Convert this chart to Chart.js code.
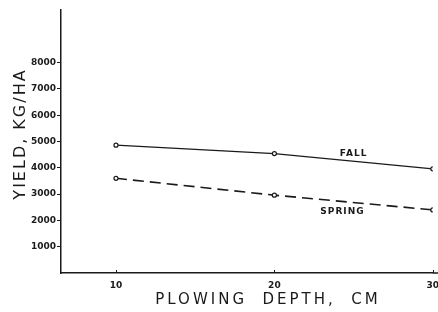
<!DOCTYPE html>
<html>
<head>
<meta charset="utf-8">
<script src="https://cdn.jsdelivr.net/npm/chart.js@4"></script>
<style>
  html, body { margin: 0; padding: 0; background: #fff; }
  #wrap { width: 438px; height: 312px; position: relative; }
</style>
</head>
<body>
<div id="wrap"><canvas id="myChart"></canvas></div>
<script>
const depths = [10, 20, 30];
const fallYield = [4860, 4540, 3960];
const springYield = [3600, 2960, 2400];
const xTicks = [10, 20, 30];
const yTicks = [1000, 2000, 3000, 4000, 5000, 6000, 7000, 8000];
const yTitle = 'YIELD, KG/HA';
const xTitle = 'PLOWING  DEPTH,  CM';
const seriesLabels = [
    { text: 'FALL', x: 25.0, y: 4540 },
    { text: 'SPRING', x: 24.3, y: 2330 }
];

const ink = '#1a1a1a';

// titles with letter spacing, series labels and the small inward x ticks
const extras = {
    id: 'extras',
    afterDraw(chart) {
        const ctx = chart.ctx;
        const xs = chart.scales.x;
        const ys = chart.scales.y;
        ctx.save();
        ctx.fillStyle = ink;
        ctx.strokeStyle = ink;

        // x axis runs on a little past the last tick
        ctx.lineWidth = 1.5;
        ctx.beginPath();
        ctx.moveTo(xs.right, ys.bottom);
        ctx.lineTo(chart.width, ys.bottom);
        ctx.stroke();

        ctx.lineWidth = 1;
        xTicks.forEach(v => {
            const px = Math.round(xs.getPixelForValue(v)) + 0.5;
            ctx.beginPath();
            ctx.moveTo(px, ys.bottom);
            ctx.lineTo(px, ys.bottom - 3);
            ctx.stroke();
        });

        ctx.textAlign = 'center';
        ctx.textBaseline = 'middle';
        ctx.font = 'bold 9px "DejaVu Sans"';
        ctx.letterSpacing = '1px';
        seriesLabels.forEach(l => {
            ctx.fillText(l.text, xs.getPixelForValue(l.x), ys.getPixelForValue(l.y));
        });

        ctx.font = '15px "DejaVu Sans"';
        ctx.letterSpacing = '3px';
        ctx.fillText(xTitle, 268, 300);

        ctx.translate(21, 134);
        ctx.rotate(-Math.PI / 2);
        ctx.font = '16px "DejaVu Sans"';
        ctx.letterSpacing = '2px';
        ctx.fillText(yTitle, 0, 0);
        ctx.restore();
    }
};

new Chart(document.getElementById('myChart'), {
    type: 'line',
    data: {
        datasets: [{
            label: 'FALL',
            data: depths.map((d, i) => ({ x: d, y: fallYield[i] })),
            borderColor: ink,
            borderWidth: 1.3,
            pointRadius: 2,
            pointBackgroundColor: '#fff',
            pointBorderColor: ink,
            pointBorderWidth: 1.2
        }, {
            label: 'SPRING',
            data: depths.map((d, i) => ({ x: d, y: springYield[i] })),
            borderColor: ink,
            borderWidth: 1.6,
            borderDash: [11, 6],
            pointRadius: 2,
            pointBackgroundColor: '#fff',
            pointBorderColor: ink,
            pointBorderWidth: 1.2
        }]
    },
    options: {
        responsive: true,
        maintainAspectRatio: false,
        animation: false,
        layout: { padding: { top: 10, right: 0, left: 0, bottom: 0 } },
        plugins: { legend: { display: false }, tooltip: { enabled: false } },
        scales: {
            x: {
                type: 'linear',
                min: 6.53,
                max: 30,
                afterBuildTicks: s => { s.ticks = xTicks.map(v => ({ value: v })); },
                afterFit: s => { s.height = 39; s.paddingLeft = 0; s.paddingRight = 0; },
                border: { color: ink, width: 1.5 },
                grid: { display: true, drawOnChartArea: false, drawTicks: false },
                ticks: {
                    color: ink,
                    padding: 7,
                    maxRotation: 0,
                    callback: v => String(v),
                    font: { family: 'DejaVu Sans', size: 9, weight: 'bold' }
                }
            },
            y: {
                min: 0,
                max: 10000,
                afterBuildTicks: s => { s.ticks = yTicks.map(v => ({ value: v })); },
                afterFit: s => { s.width = 61; s.paddingTop = 0; s.paddingBottom = 0; },
                border: { color: ink, width: 1.5 },
                grid: { drawOnChartArea: false, tickLength: 4, color: ink, tickWidth: 1 },
                ticks: {
                    color: ink,
                    padding: 1,
                    callback: v => String(v),
                    font: { family: 'DejaVu Sans', size: 9, weight: 'bold' }
                }
            }
        }
    },
    plugins: [extras]
});
</script>
</body>
</html>
